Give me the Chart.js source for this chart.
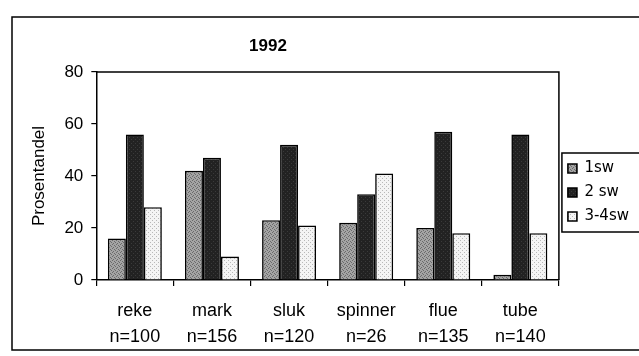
<!DOCTYPE html>
<html><head><meta charset="utf-8">
<script src="https://cdn.jsdelivr.net/npm/chart.js@4"></script>
<style>html,body{margin:0;padding:0;background:#fff;} #wrap{width:639px;height:356px;position:relative}</style>
</head><body><div id="wrap"><canvas id="c" width="639" height="356"></canvas></div>
<script>
const categories = ['reke','mark','sluk','spinner','flue','tube'];
const sampleSizes = ['n=100','n=156','n=120','n=26','n=135','n=140'];
const seriesNames = ['1sw','2 sw','3-4sw'];
const sw1 = [16,42,23,22,20,2];
const sw2 = [56,47,52,33,57,56];
const sw34 = [28,9,21,41,18,18];
const yTicks = [0,20,40,60,80];
const chartTitle = '1992';
const yTitle = 'Prosentandel';

function makePattern(bg, dot, cells) {
  const c = document.createElement('canvas'); c.width = 4; c.height = 4;
  const x = c.getContext('2d');
  x.fillStyle = bg; x.fillRect(0,0,4,4);
  x.fillStyle = dot; cells.forEach(([a,b]) => x.fillRect(a,b,1,1));
  return x.createPattern(c, 'repeat');
}
const fill1 = makePattern('#a4a4a4', '#6a6a6a', [[0,0],[2,1],[1,3],[3,2]]);
const fill2 = makePattern('#222222', '#3a3a3a', [[1,1],[3,3]]);
const fill3 = makePattern('#f4f4f4', '#b8b8b8', [[0,0],[2,2]]);

const FONT = 'Liberation Sans, Arial, sans-serif';
const LFONT = 'DejaVu Sans, sans-serif';

const decor = {
  id: 'decor',
  afterDraw(chart) {
    const ctx = chart.ctx, a = chart.chartArea;
    ctx.save();
    ctx.strokeStyle = '#000';
    ctx.lineWidth = 1.5;
    ctx.beginPath();
    ctx.moveTo(a.left, a.top); ctx.lineTo(a.right, a.top); ctx.lineTo(a.right, a.bottom);
    ctx.stroke();
    const hb = chart.legend.legendHitBoxes;
    if (hb && hb.length) {
      const l = Math.min(...hb.map(h => h.left)) - 6;
      const t = hb[0].top - 8;
      const b = hb[hb.length - 1].top + hb[hb.length - 1].height + 8;
      ctx.strokeRect(l, t, 660 - l, b - t);
    }
    ctx.strokeRect(12, 17, 640, 333);
    ctx.fillStyle = '#000';
    ctx.font = 'bold 17px ' + FONT;
    ctx.textAlign = 'center'; ctx.textBaseline = 'middle';
    ctx.fillText(chartTitle, 268, 46);
    ctx.restore();
  }
};

new Chart(document.getElementById('c'), {
  type: 'bar',
  data: {
    labels: categories,
    datasets: [
      { label: seriesNames[0], data: sw1, backgroundColor: fill1, borderColor: '#000', borderWidth: 1.6 },
      { label: seriesNames[1], data: sw2, backgroundColor: fill2, borderColor: '#000', borderWidth: 1.6 },
      { label: seriesNames[2], data: sw34, backgroundColor: fill3, borderColor: '#000', borderWidth: 1.6 }
    ]
  },
  options: {
    responsive: false,
    animation: false,
    devicePixelRatio: 1,
    categoryPercentage: 0.7,
    barPercentage: 1.0,
    layout: { padding: { left: 29, top: 72, right: 0, bottom: 0 } },
    scales: {
      x: {
        afterFit: (s) => { s.height = 76; },
        grid: { display: true, drawOnChartArea: false, drawTicks: true, tickLength: 6, offset: true, color: '#000', lineWidth: 1.2 },
        border: { display: true, color: '#000', width: 1.5 },
        ticks: {
          color: '#000', font: { family: FONT, size: 18, lineHeight: 1.45 }, padding: 12, maxRotation: 0,
          callback: (v, i) => [categories[i], sampleSizes[i]]
        }
      },
      y: {
        min: 0, max: 80,
        afterBuildTicks: (s) => { s.ticks = yTicks.map(v => ({ value: v })); },
        grid: { display: true, drawOnChartArea: false, drawTicks: true, tickLength: 5, color: '#000', lineWidth: 1.2 },
        border: { display: true, color: '#000', width: 1.5 },
        ticks: { color: '#000', font: { family: FONT, size: 17 }, padding: 8 },
        title: { display: true, text: yTitle, color: '#000', font: { family: FONT, size: 17 }, padding: { top: 0, bottom: 7 } }
      }
    },
    plugins: {
      title: { display: false },
      tooltip: { enabled: false },
      legend: {
        position: 'right',
        align: 'start',
        title: { display: true, text: ' ', font: { size: 10 }, padding: { top: 0, bottom: 68 } },
        labels: { color: '#000', font: { family: LFONT, size: 15 }, boxWidth: 9, boxHeight: 9, padding: 9 }
      }
    }
  },
  plugins: [decor]
});
</script>
</body></html>
